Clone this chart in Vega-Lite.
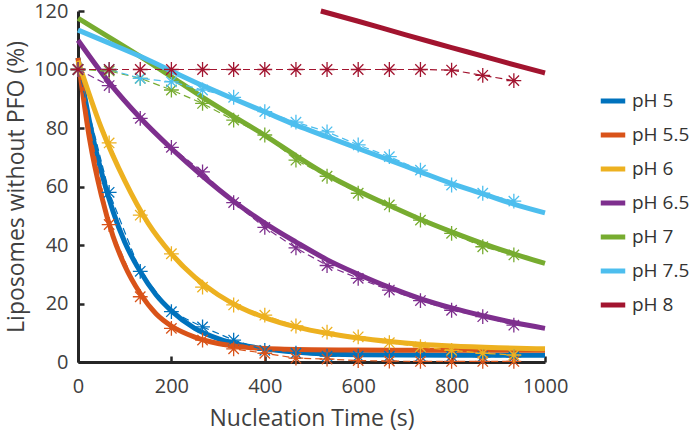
{
  "$schema": "https://vega.github.io/schema/vega-lite/v6.json",
  "width": 467,
  "height": 351,
  "autosize": {"type": "none"},
  "padding": {"left": 78, "top": 11, "right": 149, "bottom": 71},
  "data": {
    "values": [
      {"ph": "pH 5", "k": "d", "t": 0, "v": 100}, {"ph": "pH 5", "k": "d", "t": 66.7, "v": 58}, {"ph": "pH 5", "k": "d", "t": 133.3, "v": 31},
      {"ph": "pH 5", "k": "d", "t": 200, "v": 17.2}, {"ph": "pH 5", "k": "d", "t": 266.7, "v": 12}, {"ph": "pH 5", "k": "d", "t": 333.3, "v": 7.5},
      {"ph": "pH 5", "k": "d", "t": 400, "v": 4}, {"ph": "pH 5", "k": "d", "t": 466.7, "v": 3}, {"ph": "pH 5", "k": "d", "t": 533.3, "v": 2},
      {"ph": "pH 5", "k": "d", "t": 600, "v": 2}, {"ph": "pH 5", "k": "d", "t": 666.7, "v": 2}, {"ph": "pH 5", "k": "d", "t": 733.3, "v": 2},
      {"ph": "pH 5", "k": "d", "t": 800, "v": 2}, {"ph": "pH 5", "k": "d", "t": 866.7, "v": 1.8}, {"ph": "pH 5", "k": "d", "t": 933.3, "v": 1.8},

      {"ph": "pH 5.5", "k": "d", "t": 0, "v": 100}, {"ph": "pH 5.5", "k": "d", "t": 66.7, "v": 47}, {"ph": "pH 5.5", "k": "d", "t": 133.3, "v": 22.3},
      {"ph": "pH 5.5", "k": "d", "t": 200, "v": 11.5}, {"ph": "pH 5.5", "k": "d", "t": 266.7, "v": 7.5}, {"ph": "pH 5.5", "k": "d", "t": 333.3, "v": 4.5},
      {"ph": "pH 5.5", "k": "d", "t": 400, "v": 3}, {"ph": "pH 5.5", "k": "d", "t": 466.7, "v": 1.3}, {"ph": "pH 5.5", "k": "d", "t": 533.3, "v": 1},
      {"ph": "pH 5.5", "k": "d", "t": 600, "v": 0.5}, {"ph": "pH 5.5", "k": "d", "t": 666.7, "v": 0.3}, {"ph": "pH 5.5", "k": "d", "t": 733.3, "v": 0.2},
      {"ph": "pH 5.5", "k": "d", "t": 800, "v": 0.2}, {"ph": "pH 5.5", "k": "d", "t": 866.7, "v": 0.2}, {"ph": "pH 5.5", "k": "d", "t": 933.3, "v": 0.2},

      {"ph": "pH 6", "k": "d", "t": 0, "v": 100}, {"ph": "pH 6", "k": "d", "t": 66.7, "v": 74.9}, {"ph": "pH 6", "k": "d", "t": 133.3, "v": 50.2},
      {"ph": "pH 6", "k": "d", "t": 200, "v": 37}, {"ph": "pH 6", "k": "d", "t": 266.7, "v": 25.6}, {"ph": "pH 6", "k": "d", "t": 333.3, "v": 19.5},
      {"ph": "pH 6", "k": "d", "t": 400, "v": 16}, {"ph": "pH 6", "k": "d", "t": 466.7, "v": 12.3}, {"ph": "pH 6", "k": "d", "t": 533.3, "v": 10.2},
      {"ph": "pH 6", "k": "d", "t": 600, "v": 8.6}, {"ph": "pH 6", "k": "d", "t": 666.7, "v": 6.6}, {"ph": "pH 6", "k": "d", "t": 733.3, "v": 5.2},
      {"ph": "pH 6", "k": "d", "t": 800, "v": 4}, {"ph": "pH 6", "k": "d", "t": 866.7, "v": 3}, {"ph": "pH 6", "k": "d", "t": 933.3, "v": 2.4},

      {"ph": "pH 6.5", "k": "d", "t": 0, "v": 100}, {"ph": "pH 6.5", "k": "d", "t": 66.7, "v": 94.5}, {"ph": "pH 6.5", "k": "d", "t": 133.3, "v": 83.3},
      {"ph": "pH 6.5", "k": "d", "t": 200, "v": 73.4}, {"ph": "pH 6.5", "k": "d", "t": 266.7, "v": 65}, {"ph": "pH 6.5", "k": "d", "t": 333.3, "v": 54.5},
      {"ph": "pH 6.5", "k": "d", "t": 400, "v": 46}, {"ph": "pH 6.5", "k": "d", "t": 466.7, "v": 39}, {"ph": "pH 6.5", "k": "d", "t": 533.3, "v": 33},
      {"ph": "pH 6.5", "k": "d", "t": 600, "v": 28.6}, {"ph": "pH 6.5", "k": "d", "t": 666.7, "v": 24.6}, {"ph": "pH 6.5", "k": "d", "t": 733.3, "v": 21},
      {"ph": "pH 6.5", "k": "d", "t": 800, "v": 17.7}, {"ph": "pH 6.5", "k": "d", "t": 866.7, "v": 15.5}, {"ph": "pH 6.5", "k": "d", "t": 933.3, "v": 12.6},

      {"ph": "pH 7", "k": "d", "t": 0, "v": 100}, {"ph": "pH 7", "k": "d", "t": 66.7, "v": 99.5}, {"ph": "pH 7", "k": "d", "t": 133.3, "v": 97},
      {"ph": "pH 7", "k": "d", "t": 200, "v": 93}, {"ph": "pH 7", "k": "d", "t": 266.7, "v": 88.4}, {"ph": "pH 7", "k": "d", "t": 333.3, "v": 82.7},
      {"ph": "pH 7", "k": "d", "t": 400, "v": 77.6}, {"ph": "pH 7", "k": "d", "t": 466.7, "v": 69}, {"ph": "pH 7", "k": "d", "t": 533.3, "v": 63.5},
      {"ph": "pH 7", "k": "d", "t": 600, "v": 57.7}, {"ph": "pH 7", "k": "d", "t": 666.7, "v": 53.7}, {"ph": "pH 7", "k": "d", "t": 733.3, "v": 48.5},
      {"ph": "pH 7", "k": "d", "t": 800, "v": 44}, {"ph": "pH 7", "k": "d", "t": 866.7, "v": 39.4}, {"ph": "pH 7", "k": "d", "t": 933.3, "v": 36.6},

      {"ph": "pH 7.5", "k": "d", "t": 0, "v": 100}, {"ph": "pH 7.5", "k": "d", "t": 66.7, "v": 100}, {"ph": "pH 7.5", "k": "d", "t": 133.3, "v": 97},
      {"ph": "pH 7.5", "k": "d", "t": 200, "v": 95.8}, {"ph": "pH 7.5", "k": "d", "t": 266.7, "v": 93}, {"ph": "pH 7.5", "k": "d", "t": 333.3, "v": 90.5},
      {"ph": "pH 7.5", "k": "d", "t": 400, "v": 85.6}, {"ph": "pH 7.5", "k": "d", "t": 466.7, "v": 82}, {"ph": "pH 7.5", "k": "d", "t": 533.3, "v": 78.7},
      {"ph": "pH 7.5", "k": "d", "t": 600, "v": 74.2}, {"ph": "pH 7.5", "k": "d", "t": 666.7, "v": 70.2}, {"ph": "pH 7.5", "k": "d", "t": 733.3, "v": 65.6},
      {"ph": "pH 7.5", "k": "d", "t": 800, "v": 60.5}, {"ph": "pH 7.5", "k": "d", "t": 866.7, "v": 57.7}, {"ph": "pH 7.5", "k": "d", "t": 933.3, "v": 55},

      {"ph": "pH 8", "k": "d", "t": 0, "v": 100}, {"ph": "pH 8", "k": "d", "t": 66.7, "v": 100}, {"ph": "pH 8", "k": "d", "t": 133.3, "v": 100},
      {"ph": "pH 8", "k": "d", "t": 200, "v": 100}, {"ph": "pH 8", "k": "d", "t": 266.7, "v": 100}, {"ph": "pH 8", "k": "d", "t": 333.3, "v": 100},
      {"ph": "pH 8", "k": "d", "t": 400, "v": 100}, {"ph": "pH 8", "k": "d", "t": 466.7, "v": 100}, {"ph": "pH 8", "k": "d", "t": 533.3, "v": 100},
      {"ph": "pH 8", "k": "d", "t": 600, "v": 100}, {"ph": "pH 8", "k": "d", "t": 666.7, "v": 100}, {"ph": "pH 8", "k": "d", "t": 733.3, "v": 100},
      {"ph": "pH 8", "k": "d", "t": 800, "v": 99.8}, {"ph": "pH 8", "k": "d", "t": 866.7, "v": 98}, {"ph": "pH 8", "k": "d", "t": 933.3, "v": 96.2},

      {"ph": "pH 5", "k": "f", "t": 0, "v": 104}, {"ph": "pH 5", "k": "f", "t": 25, "v": 82}, {"ph": "pH 5", "k": "f", "t": 50, "v": 65},
      {"ph": "pH 5", "k": "f", "t": 75, "v": 51.5}, {"ph": "pH 5", "k": "f", "t": 100, "v": 41}, {"ph": "pH 5", "k": "f", "t": 133, "v": 31},
      {"ph": "pH 5", "k": "f", "t": 167, "v": 23}, {"ph": "pH 5", "k": "f", "t": 200, "v": 17.5}, {"ph": "pH 5", "k": "f", "t": 250, "v": 11.5},
      {"ph": "pH 5", "k": "f", "t": 300, "v": 8}, {"ph": "pH 5", "k": "f", "t": 350, "v": 5.8}, {"ph": "pH 5", "k": "f", "t": 400, "v": 4.5},
      {"ph": "pH 5", "k": "f", "t": 500, "v": 3}, {"ph": "pH 5", "k": "f", "t": 600, "v": 2.5}, {"ph": "pH 5", "k": "f", "t": 800, "v": 2.3},
      {"ph": "pH 5", "k": "f", "t": 1000, "v": 2.3},

      {"ph": "pH 5.5", "k": "f", "t": 0, "v": 104}, {"ph": "pH 5.5", "k": "f", "t": 25, "v": 76}, {"ph": "pH 5.5", "k": "f", "t": 50, "v": 57},
      {"ph": "pH 5.5", "k": "f", "t": 75, "v": 43}, {"ph": "pH 5.5", "k": "f", "t": 100, "v": 33}, {"ph": "pH 5.5", "k": "f", "t": 133, "v": 23.5},
      {"ph": "pH 5.5", "k": "f", "t": 167, "v": 16.5}, {"ph": "pH 5.5", "k": "f", "t": 200, "v": 12.3}, {"ph": "pH 5.5", "k": "f", "t": 250, "v": 8.5},
      {"ph": "pH 5.5", "k": "f", "t": 300, "v": 6.3}, {"ph": "pH 5.5", "k": "f", "t": 350, "v": 5.2}, {"ph": "pH 5.5", "k": "f", "t": 400, "v": 4.6},
      {"ph": "pH 5.5", "k": "f", "t": 500, "v": 4.2}, {"ph": "pH 5.5", "k": "f", "t": 600, "v": 4.1}, {"ph": "pH 5.5", "k": "f", "t": 800, "v": 4},
      {"ph": "pH 5.5", "k": "f", "t": 1000, "v": 4},

      {"ph": "pH 6", "k": "f", "t": 0, "v": 103}, {"ph": "pH 6", "k": "f", "t": 50, "v": 80}, {"ph": "pH 6", "k": "f", "t": 100, "v": 62},
      {"ph": "pH 6", "k": "f", "t": 150, "v": 47.5}, {"ph": "pH 6", "k": "f", "t": 200, "v": 37}, {"ph": "pH 6", "k": "f", "t": 250, "v": 29},
      {"ph": "pH 6", "k": "f", "t": 300, "v": 23}, {"ph": "pH 6", "k": "f", "t": 350, "v": 18.5}, {"ph": "pH 6", "k": "f", "t": 400, "v": 15.2},
      {"ph": "pH 6", "k": "f", "t": 467, "v": 12}, {"ph": "pH 6", "k": "f", "t": 533, "v": 9.8}, {"ph": "pH 6", "k": "f", "t": 600, "v": 8.2},
      {"ph": "pH 6", "k": "f", "t": 667, "v": 7}, {"ph": "pH 6", "k": "f", "t": 733, "v": 6.1}, {"ph": "pH 6", "k": "f", "t": 800, "v": 5.5},
      {"ph": "pH 6", "k": "f", "t": 900, "v": 4.9}, {"ph": "pH 6", "k": "f", "t": 1000, "v": 4.5},

      {"ph": "pH 6.5", "k": "f", "t": 0, "v": 110}, {"ph": "pH 6.5", "k": "f", "t": 67, "v": 95.5}, {"ph": "pH 6.5", "k": "f", "t": 133, "v": 83.5},
      {"ph": "pH 6.5", "k": "f", "t": 200, "v": 73}, {"ph": "pH 6.5", "k": "f", "t": 267, "v": 63.5}, {"ph": "pH 6.5", "k": "f", "t": 333, "v": 55},
      {"ph": "pH 6.5", "k": "f", "t": 400, "v": 47.5}, {"ph": "pH 6.5", "k": "f", "t": 467, "v": 41}, {"ph": "pH 6.5", "k": "f", "t": 533, "v": 35},
      {"ph": "pH 6.5", "k": "f", "t": 600, "v": 30}, {"ph": "pH 6.5", "k": "f", "t": 667, "v": 25.5}, {"ph": "pH 6.5", "k": "f", "t": 733, "v": 21.7},
      {"ph": "pH 6.5", "k": "f", "t": 800, "v": 18.5}, {"ph": "pH 6.5", "k": "f", "t": 867, "v": 15.8}, {"ph": "pH 6.5", "k": "f", "t": 933, "v": 13.5},
      {"ph": "pH 6.5", "k": "f", "t": 1000, "v": 11.5},

      {"ph": "pH 7", "k": "f", "t": 0, "v": 117.5}, {"ph": "pH 7", "k": "f", "t": 67, "v": 111}, {"ph": "pH 7", "k": "f", "t": 133, "v": 104.5},
      {"ph": "pH 7", "k": "f", "t": 200, "v": 97.5}, {"ph": "pH 7", "k": "f", "t": 267, "v": 90.5}, {"ph": "pH 7", "k": "f", "t": 333, "v": 84},
      {"ph": "pH 7", "k": "f", "t": 400, "v": 77.5}, {"ph": "pH 7", "k": "f", "t": 467, "v": 70.5}, {"ph": "pH 7", "k": "f", "t": 533, "v": 64},
      {"ph": "pH 7", "k": "f", "t": 600, "v": 58.5}, {"ph": "pH 7", "k": "f", "t": 667, "v": 53.5}, {"ph": "pH 7", "k": "f", "t": 733, "v": 48.8},
      {"ph": "pH 7", "k": "f", "t": 800, "v": 44.5}, {"ph": "pH 7", "k": "f", "t": 867, "v": 40.5}, {"ph": "pH 7", "k": "f", "t": 933, "v": 37},
      {"ph": "pH 7", "k": "f", "t": 1000, "v": 33.7},

      {"ph": "pH 7.5", "k": "f", "t": 0, "v": 113.5}, {"ph": "pH 7.5", "k": "f", "t": 67, "v": 109}, {"ph": "pH 7.5", "k": "f", "t": 133, "v": 104.5},
      {"ph": "pH 7.5", "k": "f", "t": 200, "v": 99.5}, {"ph": "pH 7.5", "k": "f", "t": 267, "v": 94.5}, {"ph": "pH 7.5", "k": "f", "t": 333, "v": 90},
      {"ph": "pH 7.5", "k": "f", "t": 400, "v": 85.5}, {"ph": "pH 7.5", "k": "f", "t": 467, "v": 81}, {"ph": "pH 7.5", "k": "f", "t": 533, "v": 77},
      {"ph": "pH 7.5", "k": "f", "t": 600, "v": 73}, {"ph": "pH 7.5", "k": "f", "t": 667, "v": 69}, {"ph": "pH 7.5", "k": "f", "t": 733, "v": 65},
      {"ph": "pH 7.5", "k": "f", "t": 800, "v": 61}, {"ph": "pH 7.5", "k": "f", "t": 867, "v": 57.5}, {"ph": "pH 7.5", "k": "f", "t": 933, "v": 54},
      {"ph": "pH 7.5", "k": "f", "t": 1000, "v": 51},

      {"ph": "pH 8", "k": "f", "t": 520, "v": 120}, {"ph": "pH 8", "k": "f", "t": 600, "v": 116.5}, {"ph": "pH 8", "k": "f", "t": 700, "v": 111.9},
      {"ph": "pH 8", "k": "f", "t": 800, "v": 107.5}, {"ph": "pH 8", "k": "f", "t": 900, "v": 103.1}, {"ph": "pH 8", "k": "f", "t": 1000, "v": 98.8}
    ]
  },
  "encoding": {
    "x": {
      "field": "t",
      "type": "quantitative",
      "title": "Nucleation Time (s)",
      "scale": {"domain": [0, 1000], "nice": false, "zero": false},
      "axis": {"values": [0, 200, 400, 600, 800, 1000], "format": "d", "labelPadding": 20, "titlePadding": 11}
    },
    "y": {
      "field": "v",
      "type": "quantitative",
      "title": "Liposomes without PFO (%)",
      "scale": {"domain": [0, 120], "nice": false},
      "axis": {"values": [0, 20, 40, 60, 80, 100, 120], "format": "d", "labelPadding": 16, "titlePadding": 5}
    },
    "color": {
      "field": "ph",
      "type": "nominal",
      "scale": {
        "domain": ["pH 5", "pH 5.5", "pH 6", "pH 6.5", "pH 7", "pH 7.5", "pH 8"],
        "range": ["#0072BD", "#D95319", "#EDB120", "#7E2F8E", "#77AC30", "#4DBEEE", "#A2142F"]
      }
    }
  },
  "layer": [
    {
      "transform": [{"filter": "datum.k == 'f'"}],
      "mark": {"type": "line", "strokeWidth": 5, "interpolate": "monotone"},
      "encoding": {
        "color": {
          "field": "ph",
          "type": "nominal",
          "title": null,
          "legend": {
            "orient": "none",
            "legendX": 520,
            "legendY": 75,
            "symbolType": "stroke",
            "symbolStrokeWidth": 5,
            "symbolSize": 600,
            "labelFontSize": 19,
            "labelColor": "#333333",
            "rowPadding": 9,
            "labelOffset": 4
          }
        }
      }
    },
    {
      "transform": [{"filter": "datum.k == 'd'"}],
      "mark": {"type": "line", "strokeWidth": 1.2, "strokeDash": [7, 4]},
      "encoding": {}
    },
    {
      "transform": [{"filter": "datum.k == 'd'"}],
      "mark": {
        "type": "point",
        "filled": false,
        "strokeWidth": 1.3,
        "size": 220,
        "opacity": 1,
        "shape": "M-1,0H1M0,-1V1M-0.7,-0.7L0.7,0.7M-0.7,0.7L0.7,-0.7"
      },
      "encoding": {}
    }
  ],
  "config": {
    "font": "Open Sans",
    "view": {"stroke": null},
    "axis": {
      "grid": false,
      "labelFlush": false,
      "domainColor": "#262626",
      "domainWidth": 3,
      "tickColor": "#262626",
      "tickWidth": 2.5,
      "tickSize": -6,
      "labelFontSize": 20,
      "labelColor": "#404040",
      "titleFontSize": 23,
      "titleFontWeight": "normal",
      "titleColor": "#404040"
    }
  }
}
